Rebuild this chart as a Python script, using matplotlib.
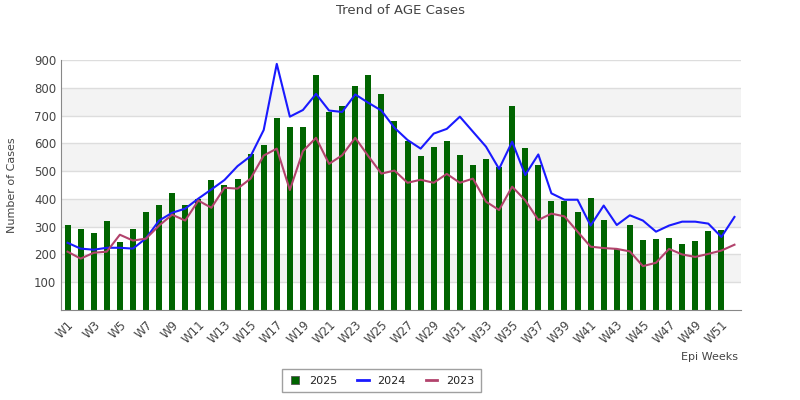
import matplotlib
matplotlib.use("Agg")
import matplotlib.pyplot as plt
from matplotlib.lines import Line2D
import numpy as np

weeks = [f"W{i}" for i in range(1, 53)]

cases_2025 = [306, 292, 277, 320, 245, 292, 353, 378, 421, 378,
              400, 468, 450, 472, 562, 594, 691, 659, 659, 846,
              714, 734, 806, 846, 778, 680, 608, 554, 587, 608,
              558, 522, 544, 515, 734, 583, 522, 392, 392, 353,
              403, 324, 220, 306, 252, 256, 259, 238, 248, 284,
              288]

cases_2024 = [242, 221, 217, 224, 224, 221, 258, 322, 350, 365,
              401, 434, 468, 518, 554, 648, 886, 696, 720, 778,
              718, 713, 776, 746, 718, 656, 612, 581, 635, 652,
              696, 642, 588, 508, 606, 486, 560, 420, 397, 397,
              304, 376, 306, 341, 322, 282, 304, 318, 318, 311,
              263, 335]

cases_2023 = [210, 185, 206, 210, 271, 250, 257, 304, 343, 322,
              394, 368, 440, 437, 473, 556, 581, 432, 572, 620,
              526, 557, 620, 554, 491, 502, 458, 469, 458, 490,
              458, 473, 390, 360, 444, 395, 324, 347, 337, 282,
              228, 223, 220, 211, 158, 170, 220, 200, 191, 202,
              214, 235]

text_col = "#444444"
c25, c24, c23 = "#006400", "#1a1aff", "#b2436c"

fig = plt.figure(figsize=(8, 4), dpi=100)
ax = fig.add_axes([0.07625, 0.225, 0.85, 0.625])

# alternating bands
for lo in range(100, 900, 200):
    ax.axhspan(lo, lo + 100, color="#f3f3f3", zorder=0, lw=0)
for v in range(100, 1000, 100):
    ax.axhline(v, color="#dddddd", lw=1, zorder=0.5)

x = np.arange(len(weeks))
ax.bar(x[:len(cases_2025)], cases_2025, width=0.46, color=c25, zorder=2)
ax.plot(x, cases_2024, color=c24, lw=1.5, zorder=3)
ax.plot(x, cases_2023, color=c23, lw=1.5, zorder=3)

ax.set_xlim(-0.5, len(weeks) - 0.5)
ax.set_ylim(0, 900)
ax.set_yticks(range(100, 1000, 100))
ax.set_xticks(x[::2])
ax.set_xticklabels(weeks[::2], rotation=45, ha="right", rotation_mode="anchor")
ax.tick_params(axis="both", length=0, colors=text_col, labelsize=8.5)
ax.tick_params(axis="x", pad=6)

for s in ["top", "right"]:
    ax.spines[s].set_visible(False)
for s in ["left", "bottom"]:
    ax.spines[s].set_color("#888888")

ax.set_ylabel("Number of Cases", color=text_col, fontsize=8)
ax.yaxis.set_label_coords(-0.065, 0.5)
fig.text(0.922, 0.1, "Epi Weeks", color=text_col, fontsize=8, ha="right")
fig.text(0.5, 0.965, "Trend of AGE Cases", color=text_col, fontsize=9.5, ha="center")

handles = [
    Line2D([], [], ls="none", marker="s", markersize=6, markerfacecolor=c25,
           markeredgecolor="#555555", markeredgewidth=0.6),
    Line2D([], [], color=c24, lw=2),
    Line2D([], [], color=c23, lw=2),
]
leg = fig.legend(handles, ["2025", "2024", "2023"], loc="center",
                 bbox_to_anchor=(0.477, 0.048), ncol=3,
                 fontsize=8, frameon=True, fancybox=False, edgecolor="#888888",
                 handlelength=1.0, columnspacing=1.8, borderpad=0.6)
for t in leg.get_texts():
    t.set_color("#222222")

fig.savefig("out.png", dpi=100)
